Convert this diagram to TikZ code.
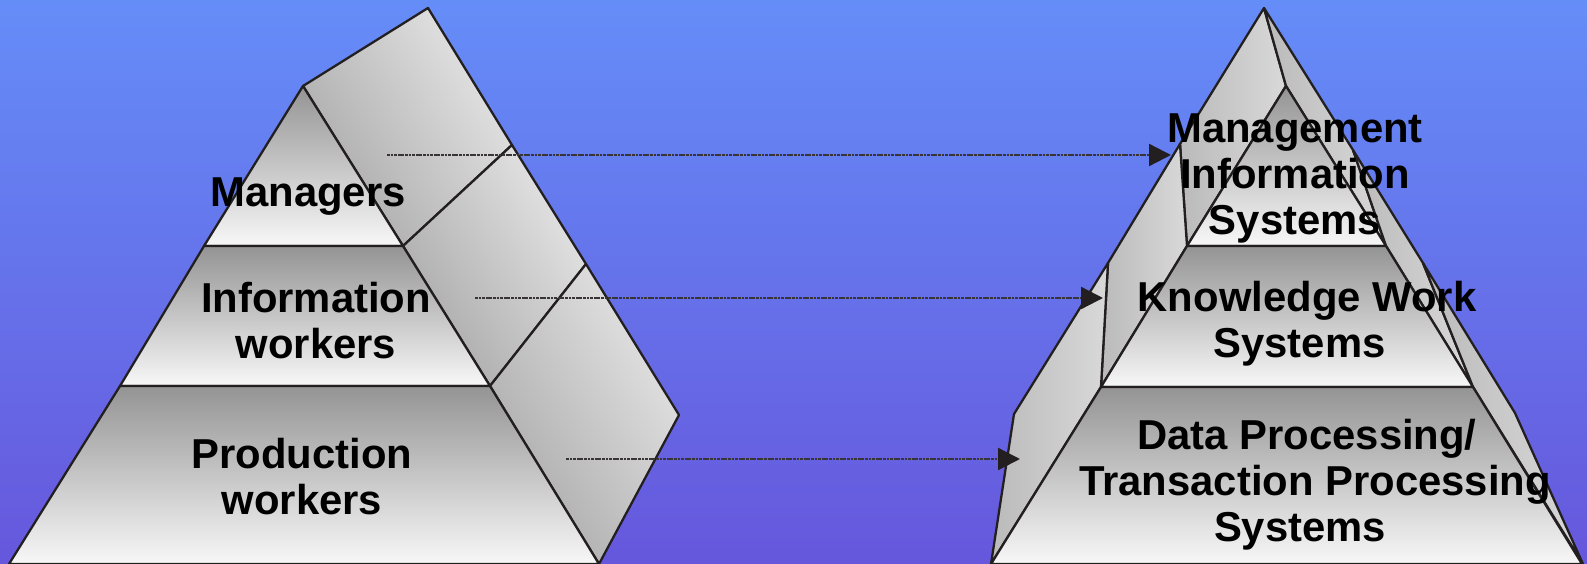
\documentclass[tikz,border=0pt]{standalone}
\usepackage{fontspec}
\setsansfont{Liberation Sans}
\usepackage{tikz}
\usetikzlibrary{arrows.meta}
\definecolor{bgTop}{HTML}{658DF8}
\definecolor{bgBot}{HTML}{6657DC}
\definecolor{edgeC}{HTML}{231F20}

\begin{document}
\begin{tikzpicture}[x=0.02cm, y=-0.02cm,
  every node/.style={font=\sffamily\bfseries\fontsize{23.8}{26.2}\selectfont, align=center, text=black},
  tier/.style={draw=edgeC, line width=1.3pt, line join=round, top color=black!42, bottom color=black!3},
  slab/.style={draw=edgeC, line width=1.3pt, line join=round, left color=black!34, right color=black!10, shading angle=122},
  wing/.style={draw=edgeC, line width=1.3pt, line join=round, left color=black!27, right color=black!15},
  link/.style={-{Triangle[length=0.44cm, width=0.44cm, color=edgeC]}, line width=1.3pt, edgeC!90, dash pattern=on 1.6pt off 0.45pt}
]
  \useasboundingbox (0,0) rectangle (1587,564);
  \fill[top color=bgTop, bottom color=bgBot] (0,0) rectangle (1587,564);

  % left pyramid
  \draw[slab] (303,86) -- (428,8) -- (512,145) -- (403,246) -- cycle;
  \draw[slab] (403,246) -- (512,145) -- (586,264) -- (490,386) -- cycle;
  \draw[slab] (490,386) -- (586,264) -- (679,415) -- (599,564) -- cycle;
  \draw[tier] (303,86) -- (403,246) -- (204,246) -- cycle;
  \draw[tier] (204,246) -- (403,246) -- (490,386) -- (120,386) -- cycle;
  \draw[tier] (120,386) -- (490,386) -- (599,564) -- (9,564) -- cycle;

  % right pyramid
  \draw[wing] (1264,8) -- (1286,86) -- (1187,246) -- (1180,144) -- cycle;
  \draw[wing] (1264,8) -- (1353,150) -- (1386,246) -- (1286,86) -- cycle;
  \draw[wing] (1180,144) -- (1187,246) -- (1101,387) -- (1108,263) -- cycle;
  \draw[wing] (1353,150) -- (1423,263) -- (1473,387) -- (1386,246) -- cycle;
  \draw[wing] (1108,263) -- (1101,387) -- (991,564) -- (1014,414) -- cycle;
  \draw[wing] (1423,263) -- (1515,413) -- (1583,564) -- (1473,387) -- cycle;
  \draw[tier] (1286,86) -- (1386,246) -- (1187,246) -- cycle;
  \draw[tier] (1187,246) -- (1386,246) -- (1473,387) -- (1101,387) -- cycle;
  \draw[tier] (1101,387) -- (1473,387) -- (1582,564) -- (991,564) -- cycle;

  \coordinate (mgrout) at (387,155);
  \coordinate (infout) at (475,298);
  \coordinate (prdout) at (566,459);
  \coordinate (misin) at (1171,155);
  \coordinate (kwsin) at (1103,298);
  \coordinate (tpsin) at (1020,459);
  \draw[link] (mgrout) -- (misin);
  \draw[link] (infout) -- (kwsin);
  \draw[link] (prdout) -- (tpsin);

  \node (mgr) at (308,197) {Managers};
  \node (info) at (316,321) {Information\\workers};
  \node (prod) at (302,477) {Production\\workers};
  \node (mis) at (1295,178) {Management\\Information\\Systems};
  \node (kws) at (1307,324) {Knowledge Work\\Systems\rule{0.3cm}{0pt}};
  \node (tps) at (1315,485) {Data Processing/\rule{0.32cm}{0pt}\\Transaction Processing\\Systems\rule{0.6cm}{0pt}};
\end{tikzpicture}
\end{document}
